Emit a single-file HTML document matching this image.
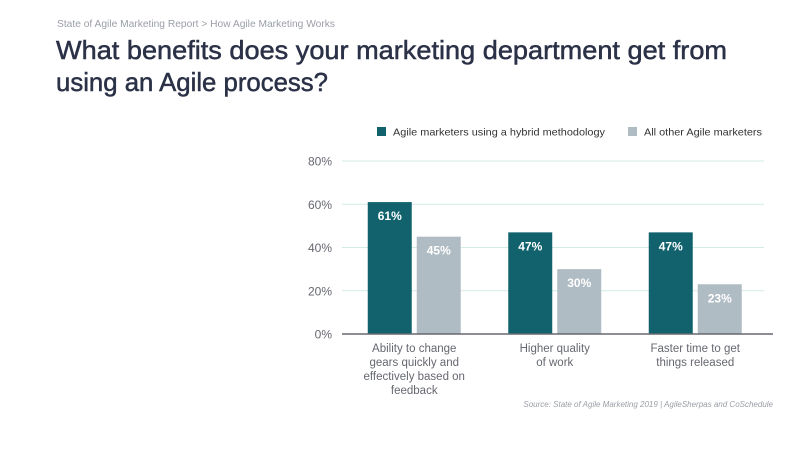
<!DOCTYPE html>
<html><head><meta charset="utf-8"><style>
html,body{margin:0;padding:0;background:#fff;width:800px;height:450px;overflow:hidden;font-family:"Liberation Sans",sans-serif;}
</style></head><body>
<svg width="800" height="450" xmlns="http://www.w3.org/2000/svg">
<text x="57" y="27" font-size="10.5" fill="#9a9ea6" textLength="278" lengthAdjust="spacingAndGlyphs">State of Agile Marketing Report  &gt; How Agile Marketing Works</text>
<text x="56" y="59" font-size="26" fill="#2b3147" stroke="#2b3147" stroke-width="0.5" textLength="671" lengthAdjust="spacingAndGlyphs">What benefits does your marketing department get from</text>
<text x="56" y="91" font-size="26" fill="#2b3147" stroke="#2b3147" stroke-width="0.5" textLength="272" lengthAdjust="spacingAndGlyphs">using an Agile process?</text>
<rect x="377" y="127" width="9" height="9" fill="#12626e"/>
<text x="393" y="135.5" font-size="10.5" fill="#333" textLength="212" lengthAdjust="spacingAndGlyphs">Agile marketers using a hybrid methodology</text>
<rect x="628" y="127" width="9" height="9" fill="#b0bcc4"/>
<text x="644" y="135.5" font-size="10.5" fill="#333" textLength="118" lengthAdjust="spacingAndGlyphs">All other Agile marketers</text>
<g id="grid"></g><g id="bars"></g><g id="labels"></g>
<line x1="342" y1="334" x2="773" y2="334" stroke="#666870" stroke-width="1.5"/>
<text x="773" y="407" font-size="8" font-style="italic" fill="#9a9ea6" text-anchor="end">Source: State of Agile Marketing 2019 | AgileSherpas and CoSchedule</text>
</svg>
<script>
const categories=[["Ability to change","gears quickly and","effectively based on","feedback"],["Higher quality","of work"],["Faster time to get","things released"]];
const hybridValues=[61,47,47];
const otherValues=[45,30,23];
const yTicks=[0,20,40,60,80];
const NS="http://www.w3.org/2000/svg";
const y0=334,yTop=161,yMax=80,x0=344,bandW=140.5,barW=44,gap=5;
const yScale=v=>y0-(v/yMax)*(y0-yTop);
const bandCenter=i=>x0+bandW*i+bandW/2;
function mk(tag,attrs,parent){const e=document.createElementNS(NS,tag);for(const k in attrs)e.setAttribute(k,attrs[k]);parent.appendChild(e);return e;}
const grid=document.getElementById('grid'),bars=document.getElementById('bars'),labels=document.getElementById('labels');
yTicks.forEach(t=>{
  if(t>0){const l=mk('line',{x1:342,x2:764,y1:yScale(t),y2:yScale(t),stroke:'#d3ebe7','stroke-width':1},grid);
  
  }
  const tx=mk('text',{x:332,y:yScale(t)+4.5,'font-size':12,fill:'#666870','text-anchor':'end'},grid);
  tx.textContent=t+'%';
  
  
});
categories.forEach((c,i)=>{
  const cx=bandCenter(i);
  [[hybridValues[i],'#12626e',cx-gap/2-barW,'hybrid'],[otherValues[i],'#b0bcc4',cx+gap/2,'other']].forEach(([v,col,x,s])=>{
    const r=mk('rect',{x:x,y:yScale(v),width:barW,height:y0-yScale(v),fill:col},bars);
    
    
    const t=mk('text',{x:x+barW/2,y:yScale(v)+18,'font-size':12,'font-weight':'bold',fill:'#fff','text-anchor':'middle'},labels);
    t.textContent=v+'%';
    
    
  });
  const ct=mk('text',{'font-size':11.5,fill:'#666870','text-anchor':'middle'},labels);
  
  
  c.forEach((line,j)=>{const ts=mk('tspan',{x:cx,y:352+j*14},ct);ts.textContent=line;});
});
</script>
</body></html>
